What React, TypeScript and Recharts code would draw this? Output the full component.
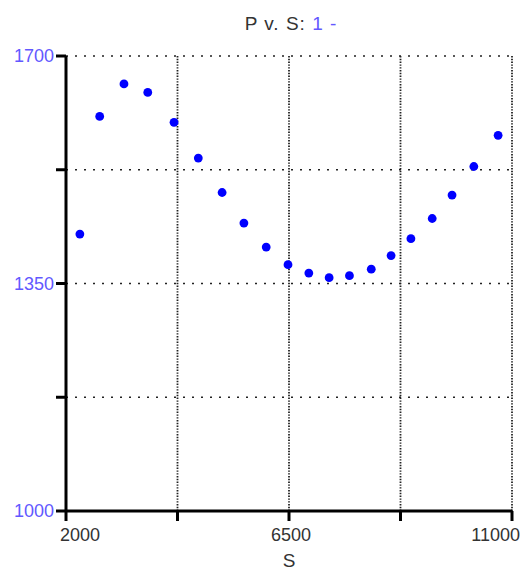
import React from 'react';
import { ScatterChart, Scatter, XAxis, YAxis, CartesianGrid } from 'recharts';

// Measured samples: S on the horizontal axis, P on the vertical axis
const sValues = [2280, 2680, 3170, 3650, 4180, 4670, 5150, 5590, 6040, 6480, 6900, 7310, 7720, 8160, 8560, 8960, 9390, 9790, 10230, 10720];
const pValues = [1426, 1607, 1657, 1644, 1598, 1543, 1490, 1443, 1406, 1379, 1366, 1359, 1362, 1372, 1393, 1419, 1450, 1486, 1530, 1578];

const xTicks = [2000, 4250, 6500, 8750, 11000];
const xLabelled = [2000, 6500, 11000];
const yTicks = [1000, 1175, 1350, 1525, 1700];
const yLabelled = [1000, 1350, 1700];

const points = sValues.map((s, i) => ({ s, p: pValues[i] }));

const FONT = '"Liberation Sans", Arial, sans-serif';
const LABEL_BLUE = '#6258ff';
const TEXT_DARK = '#333333';

const XTick = (props: any) => {
  const { x, y, payload } = props;
  const v = payload.value as number;
  if (!xLabelled.includes(v)) return null;
  let anchor: 'start' | 'middle' | 'end' = 'middle';
  let dx = 2;
  if (v === xTicks[0]) { anchor = 'start'; dx = -6; }
  if (v === xTicks[xTicks.length - 1]) { anchor = 'end'; dx = 8; }
  return (
    <text x={x + dx} y={y} dy="0.71em" textAnchor={anchor} fill={TEXT_DARK} fontSize={18} fontFamily={FONT}>
      {v}
    </text>
  );
};

const YTick = (props: any) => {
  const { x, y, payload } = props;
  const v = payload.value as number;
  if (!yLabelled.includes(v)) return null;
  return (
    <text x={x} y={y} dy="0.36em" textAnchor="end" fill={LABEL_BLUE} fontSize={18} fontFamily={FONT}>
      {v}
    </text>
  );
};

const Dot = (props: any) => {
  const { cx, cy } = props;
  return <circle cx={cx} cy={cy} r={4.4} fill="#0000ff" />;
};

export default function App() {
  return (
    <div style={{ position: 'relative', width: 516, height: 562, fontFamily: FONT }}>
      <div
        style={{
          position: 'absolute',
          left: 283,
          top: 6,
          transform: 'translateX(-50%)',
          fontSize: 19,
          lineHeight: '19px',
          letterSpacing: 1,
          whiteSpace: 'nowrap',
          color: TEXT_DARK,
        }}
      >
        P v. S: <span style={{ color: LABEL_BLUE }}>1 -</span>
      </div>
      <ScatterChart width={516} height={562} margin={{ top: 48, right: 12, bottom: 1, left: 0 }}>
        <CartesianGrid horizontal={true} vertical={false} stroke="#222" strokeWidth={1.6} strokeDasharray="2 7" />
        <CartesianGrid horizontal={false} vertical={true} stroke="#222" strokeWidth={1.8} strokeDasharray="1.4 1.4" />
        <XAxis
          type="number"
          dataKey="s"
          domain={[2000, 11000]}
          ticks={xTicks}
          interval={0}
          allowDataOverflow
          height={58}
          tickSize={10}
          tickMargin={7}
          axisLine={{ stroke: '#000', strokeWidth: 3 }}
          tickLine={{ stroke: '#000', strokeWidth: 3 }}
          tick={<XTick />}
          label={{ value: 'S', position: 'insideBottom', offset: 2, fill: TEXT_DARK, fontSize: 19, fontFamily: FONT }}
        />
        <YAxis
          type="number"
          dataKey="p"
          domain={[1000, 1700]}
          ticks={yTicks}
          interval={0}
          allowDataOverflow
          width={58}
          tickSize={10}
          tickMargin={2}
          axisLine={{ stroke: '#000', strokeWidth: 3 }}
          tickLine={{ stroke: '#000', strokeWidth: 3 }}
          tick={<YTick />}
        />
        <Scatter data={points} shape={<Dot />} isAnimationActive={false} />
      </ScatterChart>
    </div>
  );
}
